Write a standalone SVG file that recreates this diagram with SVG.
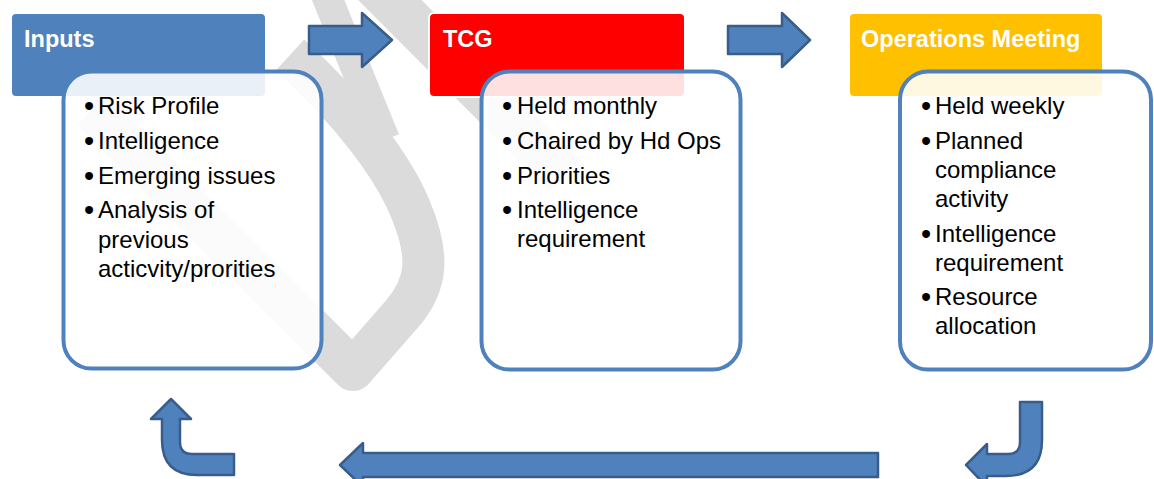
<svg xmlns="http://www.w3.org/2000/svg" width="1154" height="479" viewBox="0 0 1154 479">
<style>
.wm{fill:none;stroke:#DBDBDB;stroke-linejoin:round}
.hdr{stroke:#FFFFFF;stroke-width:2}
.box{fill:#FFFFFF;fill-opacity:0.88;stroke:#4F81BD;stroke-width:4}
.ht{font-family:"Liberation Sans",Arial,sans-serif;font-weight:bold;font-size:23.5px;fill:#FFFFFF}
.bt{font-family:"Liberation Sans",Arial,sans-serif;font-size:24px;fill:#000000}
.bu{font-size:29px}
.arr{fill:#4F81BD;stroke:#385D8A;stroke-width:2.5;stroke-linejoin:round}
</style>
<rect x="0" y="0" width="1154" height="479" fill="#FFFFFF"/>
<g id="watermark">
<path class="wm" stroke-width="42" d="M 92,110 L 353,370 L 402,314 C 428,284 430,255 410,208 C 392,165 350,110 290,55"/>
<path class="wm" stroke-width="30" d="M 322,-15 L 385,140"/>
<path class="wm" stroke-width="45" d="M 370,-20 L 565,176"/>
</g>
<g id="inputs">
<rect class="hdr" x="11" y="13" width="255" height="84" rx="5" fill="#4F81BD"/>
<text class="ht" x="24" y="47">Inputs</text>
<rect class="box" x="63.5" y="71.5" width="258" height="297" rx="28"/>
<text class="bt"><tspan class="bu" x="84" y="116">•</tspan><tspan x="98" y="114">Risk Profile</tspan><tspan class="bu" x="84" y="151">•</tspan><tspan x="98" y="149">Intelligence</tspan><tspan class="bu" x="84" y="186">•</tspan><tspan x="98" y="184">Emerging issues</tspan><tspan class="bu" x="84" y="220">•</tspan><tspan x="98" y="218">Analysis of</tspan><tspan x="98" y="247.5">previous</tspan><tspan x="98" y="277">acticvity/prorities</tspan></text>
</g>
<g id="tcg">
<rect class="hdr" x="429" y="13" width="256" height="84" rx="5" fill="#FF0000"/>
<text class="ht" x="443" y="47">TCG</text>
<rect class="box" x="481.5" y="71.5" width="259" height="298" rx="28"/>
<text class="bt"><tspan class="bu" x="502" y="116">•</tspan><tspan x="517" y="114">Held monthly</tspan><tspan class="bu" x="502" y="151">•</tspan><tspan x="517" y="149">Chaired by Hd Ops</tspan><tspan class="bu" x="502" y="186">•</tspan><tspan x="517" y="184">Priorities</tspan><tspan class="bu" x="502" y="220">•</tspan><tspan x="517" y="218">Intelligence</tspan><tspan x="517" y="247">requirement</tspan></text>
</g>
<g id="operations">
<rect class="hdr" x="849" y="13" width="254" height="84" rx="5" fill="#FFC000"/>
<text class="ht" x="861" y="47">Operations Meeting</text>
<rect class="box" x="900" y="71.5" width="251" height="298" rx="28"/>
<text class="bt"><tspan class="bu" x="921" y="116">•</tspan><tspan x="935" y="114">Held weekly</tspan><tspan class="bu" x="921" y="151">•</tspan><tspan x="935" y="149">Planned</tspan><tspan x="935" y="178">compliance</tspan><tspan x="935" y="207">activity</tspan><tspan class="bu" x="921" y="244">•</tspan><tspan x="935" y="242">Intelligence</tspan><tspan x="935" y="271">requirement</tspan><tspan class="bu" x="921" y="307">•</tspan><tspan x="935" y="305">Resource</tspan><tspan x="935" y="334">allocation</tspan></text>
</g>
<g id="connectors">
<path class="arr" stroke-width="2" d="M 309,26 L 362,26 L 362,13 L 392,40 L 362,67 L 362,54 L 309,54 Z"/>
<path class="arr" stroke-width="2" d="M 728,26 L 782,26 L 782,13 L 810,40 L 782,67 L 782,54 L 728,54 Z"/>
<path class="arr" d="M 878,453 L 878,477 L 363,477 L 363,487 L 340,465 L 363,443 L 363,453 Z"/>
<path class="arr" d="M 1020,402 L 1042,402 L 1042,440 Q 1042,476 1006,476 L 987,476 L 987,487 L 966,465 L 987,444 L 987,454 L 1008,454 Q 1020,454 1020,442 Z"/>
<path class="arr" d="M 234,454 L 192,454 Q 180,454 180,442 L 180,419 L 191,419 L 171,399 L 151,419 L 162,419 L 162,440 Q 162,475 197,475 L 234,475 Z"/>
</g>
</svg>
